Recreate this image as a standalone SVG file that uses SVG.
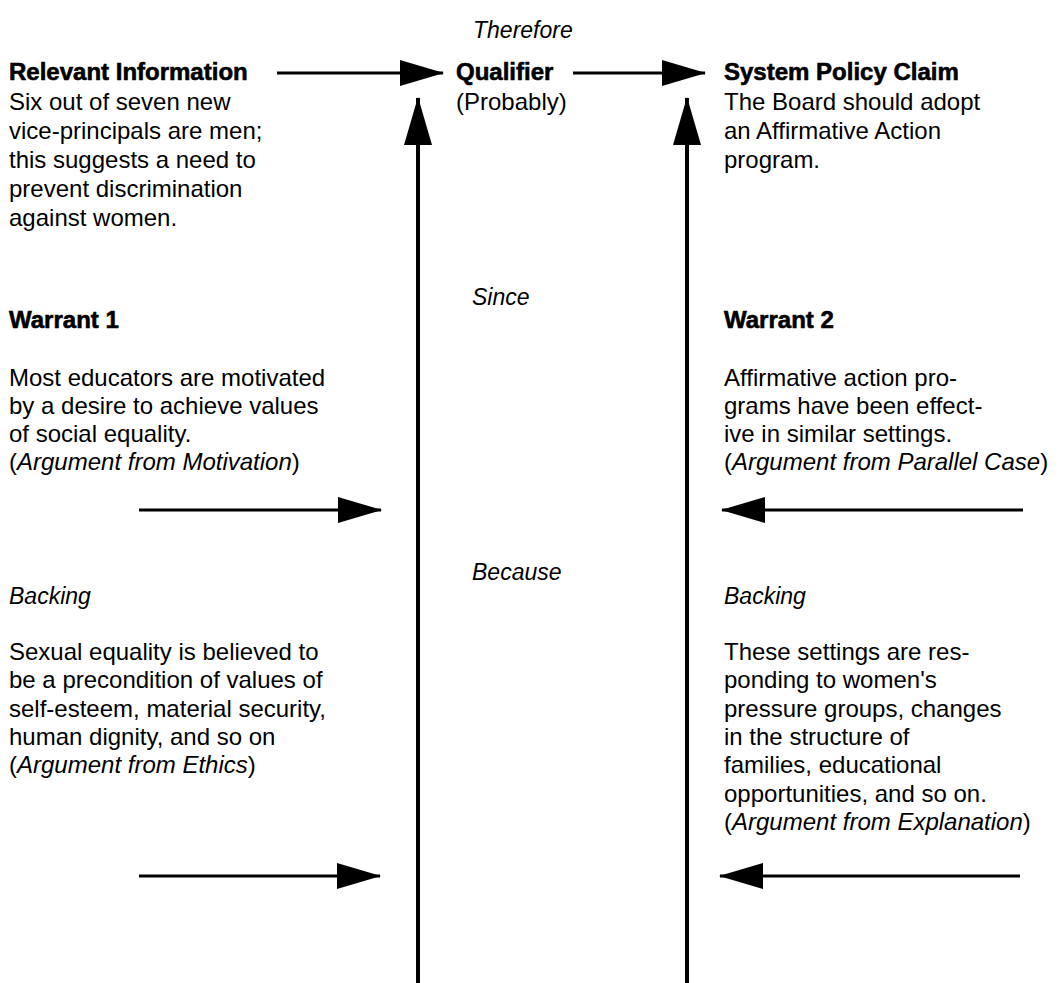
<svg xmlns="http://www.w3.org/2000/svg" width="1062" height="983" viewBox="0 0 1062 983">
<style>
text{font-family:"Liberation Sans",Arial,sans-serif;font-size:24px;fill:#000}
.h{font-weight:bold;stroke:#000;stroke-width:0.6}
.i{font-style:italic}
.l{font-size:23px}
.c line{stroke:#000;stroke-width:3;fill:none}
.c line.v{stroke-width:4}
</style>
<defs>
<marker id="ah" markerUnits="userSpaceOnUse" markerWidth="44" markerHeight="26" refX="43" refY="13" orient="auto">
<path d="M0,0 L44,13 L0,26 z" fill="#000"/>
</marker>
<marker id="av" markerUnits="userSpaceOnUse" markerWidth="48" markerHeight="28" refX="47" refY="14" orient="auto">
<path d="M0,0 L48,14 L0,28 z" fill="#000"/>
</marker>
</defs>
<rect width="1062" height="983" fill="#fff"/>
<g class="c" id="connectors">
<line x1="277" y1="73" x2="443" y2="73" marker-end="url(#ah)"/>
<line x1="573" y1="73" x2="705" y2="73" marker-end="url(#ah)"/>
<line class="v" x1="418" y1="983" x2="418" y2="98" marker-end="url(#av)"/>
<line class="v" x1="687" y1="983" x2="687" y2="98" marker-end="url(#av)"/>
<line x1="139" y1="510" x2="381" y2="510" marker-end="url(#ah)"/>
<line x1="1023" y1="510" x2="722" y2="510" marker-end="url(#ah)"/>
<line x1="139" y1="876" x2="380" y2="876" marker-end="url(#ah)"/>
<line x1="1020" y1="876" x2="720" y2="876" marker-end="url(#ah)"/>
</g>
<g id="therefore"><text class="i l" x="473" y="38">Therefore</text></g>
<g id="relevant-information">
<text class="h" x="9" y="80">Relevant Information</text>
<text x="9" y="110">Six out of seven new</text>
<text x="9" y="139">vice-principals are men;</text>
<text x="9" y="168">this suggests a need to</text>
<text x="9" y="197">prevent discrimination</text>
<text x="9" y="226">against women.</text>
</g>
<g id="qualifier">
<text class="h" x="456" y="80">Qualifier</text>
<text x="456" y="110">(Probably)</text>
</g>
<g id="claim">
<text class="h" x="724" y="80">System Policy Claim</text>
<text x="724" y="110">The Board should adopt</text>
<text x="724" y="139">an Affirmative Action</text>
<text x="724" y="168">program.</text>
</g>
<g id="since"><text class="i l" x="472" y="305">Since</text></g>
<g id="warrant1">
<text class="h" x="9" y="328">Warrant 1</text>
<text x="9" y="386">Most educators are motivated</text>
<text x="9" y="414">by a desire to achieve values</text>
<text x="9" y="442">of social equality.</text>
<text x="9" y="470">(<tspan class="i">Argument from Motivation</tspan>)</text>
</g>
<g id="warrant2">
<text class="h" x="724" y="328">Warrant 2</text>
<text x="724" y="386">Affirmative action pro-</text>
<text x="724" y="414">grams have been effect-</text>
<text x="724" y="442">ive in similar settings.</text>
<text x="724" y="470">(<tspan class="i">Argument from Parallel Case</tspan>)</text>
</g>
<g id="because"><text class="i l" x="472" y="580">Because</text></g>
<g id="backing1">
<text class="i l" x="9" y="604">Backing</text>
<text x="9" y="660">Sexual equality is believed to</text>
<text x="9" y="688">be a precondition of values of</text>
<text x="9" y="717">self-esteem, material security,</text>
<text x="9" y="745">human dignity, and so on</text>
<text x="9" y="773">(<tspan class="i">Argument from Ethics</tspan>)</text>
</g>
<g id="backing2">
<text class="i l" x="724" y="604">Backing</text>
<text x="724" y="660">These settings are res-</text>
<text x="724" y="688">ponding to women's</text>
<text x="724" y="717">pressure groups, changes</text>
<text x="724" y="745">in the structure of</text>
<text x="724" y="773">families, educational</text>
<text x="724" y="802">opportunities, and so on.</text>
<text x="724" y="830">(<tspan class="i">Argument from Explanation</tspan>)</text>
</g>
</svg>
